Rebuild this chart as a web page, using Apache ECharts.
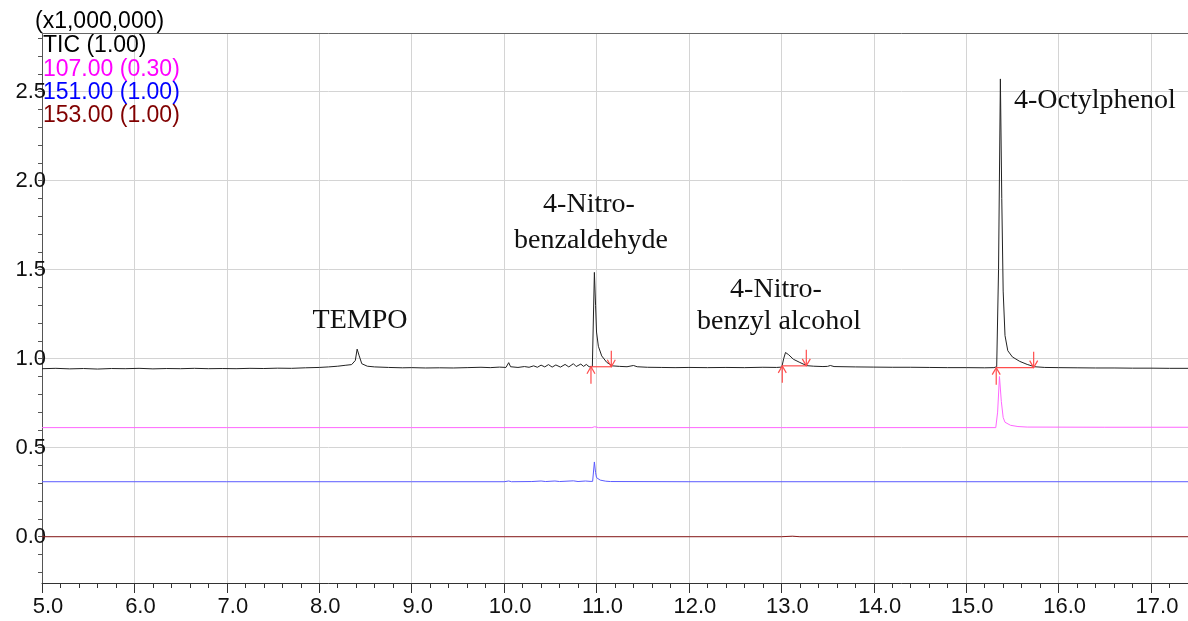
<!DOCTYPE html>
<html lang="en">
<head>
<meta charset="UTF-8">
<title>TIC chromatogram</title>
<style>html,body{margin:0;padding:0;background:#fff;}</style>
</head>
<body>
<div id="main" style="width:1188px;height:621px;"></div>
<script src="https://cdn.jsdelivr.net/npm/echarts@6/dist/echarts.min.js"></script>
<script>
// retention time (min) / intensity (x1,000,000)
var ticPoints = [
  [5.00,0.944],[5.15,0.946],[5.30,0.943],[5.45,0.945],[5.60,0.942],[5.75,0.945],[5.90,0.944],
  [6.05,0.946],[6.20,0.943],[6.35,0.945],[6.50,0.944],[6.65,0.946],[6.80,0.944],[6.95,0.945],
  [7.10,0.944],[7.25,0.946],[7.40,0.945],[7.55,0.947],[7.70,0.946],[7.85,0.949],[8.00,0.951],
  [8.10,0.954],[8.20,0.958],[8.28,0.963],[8.35,0.967],[8.39,0.990],[8.41,1.054],[8.43,1.020],
  [8.46,0.972],[8.52,0.958],[8.60,0.954],[8.75,0.951],[8.90,0.949],[9.00,0.950],[9.15,0.948],
  [9.30,0.949],[9.45,0.948],[9.60,0.950],[9.75,0.952],[9.85,0.950],[9.95,0.953],[10.02,0.951],
  [10.05,0.978],[10.07,0.955],[10.15,0.951],[10.22,0.956],[10.27,0.952],[10.32,0.960],[10.36,0.952],
  [10.40,0.964],[10.44,0.954],[10.48,0.967],[10.52,0.953],[10.56,0.965],[10.61,0.953],[10.66,0.968],
  [10.70,0.954],[10.75,0.972],[10.78,0.956],[10.83,0.970],[10.86,0.957],[10.89,0.968],[10.92,0.955],
  [10.955,0.955],[10.977,1.485],[10.99,1.30],[11.00,1.15],[11.02,1.07],[11.056,1.016],[11.11,0.980],
  [11.17,0.960],[11.25,0.957],[11.33,0.955],[11.40,0.962],[11.44,0.955],[11.55,0.952],[11.70,0.951],
  [11.85,0.950],[12.00,0.951],[12.20,0.950],[12.40,0.951],[12.60,0.950],[12.80,0.952],[12.95,0.951],
  [13.005,0.953],[13.025,1.000],[13.045,1.035],[13.08,1.022],[13.13,0.997],[13.20,0.979],[13.275,0.961],
  [13.35,0.958],[13.45,0.956],[13.50,0.957],[13.53,0.962],[13.57,0.956],[13.80,0.954],[14.00,0.953],
  [14.20,0.952],[14.40,0.952],[14.60,0.951],[14.80,0.950],[15.00,0.950],[15.20,0.949],[15.30,0.950],
  [15.33,0.955],[15.35,1.50],[15.37,2.572],[15.385,1.90],[15.40,1.38],[15.42,1.13],[15.45,1.045],
  [15.50,1.010],[15.58,0.985],[15.66,0.968],[15.74,0.955],[15.85,0.951],[16.00,0.950],[16.20,0.949],
  [16.40,0.948],[16.60,0.948],[16.80,0.947],[17.00,0.947],[17.20,0.946],[17.40,0.946]
];
var ion107Points = [
  [5.00,0.613],[7.00,0.613],[9.00,0.613],[10.95,0.613],[10.98,0.618],[11.02,0.613],[13.00,0.613],
  [13.02,0.617],[13.06,0.613],[15.32,0.613],[15.34,0.700],[15.36,0.900],[15.38,0.760],[15.40,0.670],
  [15.42,0.643],[15.48,0.626],[15.56,0.619],[15.66,0.616],[16.50,0.615],[17.40,0.615]
];
var ion151Points = [
  [5.00,0.309],[7.00,0.309],[9.00,0.309],[10.00,0.309],[10.05,0.313],[10.08,0.309],[10.30,0.310],
  [10.40,0.313],[10.45,0.310],[10.55,0.313],[10.60,0.310],[10.75,0.314],[10.80,0.310],[10.88,0.313],
  [10.93,0.311],[10.958,0.311],[10.977,0.420],[10.99,0.360],[11.00,0.332],[11.04,0.318],[11.10,0.312],
  [11.15,0.310],[12.00,0.309],[15.00,0.309],[17.40,0.309]
];
var ion153Points = [
  [5.00,0.000],[13.00,0.000],[13.02,0.004],[13.12,0.003],[13.20,0.000],[17.40,0.000]
];
// integration marks: start, end, baseline level
var peakMarks = [
  [10.94, 11.16, 0.955],
  [13.01, 13.27, 0.960],
  [15.325, 15.73, 0.950]
];
var xTicks = [5, 6, 7, 8, 9, 10, 11, 12, 13, 14, 15, 16, 17];
var yLabels = [0, 0.5, 1, 1.5, 2, 2.5];
var yMinorTicks = [-0.2, -0.1, 0, 0.1, 0.2, 0.3, 0.4, 0.5, 0.6, 0.7, 0.8, 0.9, 1, 1.1, 1.2, 1.3, 1.4,
  1.5, 1.6, 1.7, 1.8, 1.9, 2, 2.1, 2.2, 2.3, 2.4, 2.5, 2.6, 2.7, 2.8];
var traceNames = ['TIC (1.00)', '107.00 (0.30)', '151.00 (1.00)', '153.00 (1.00)'];
var traceColors = ['#222222', '#ff66ff', '#5a5aff', '#8b1c1c'];
var labelColors = ['#000000', '#ff00ff', '#0000ff', '#800000'];

var markColor = '#ff4d4d';
var chart = echarts.init(document.getElementById('main'));

var sans = '"Liberation Sans", Arial, sans-serif';
var serif = '"Liberation Serif", "Times New Roman", serif';

var graphics = [
  {type: 'text', x: 35, y: 22, style: {text: '(x1,000,000)', font: '23px ' + sans, fill: '#000', verticalAlign: 'middle'}}
];
traceNames.forEach(function (n, i) {
  graphics.push({type: 'text', x: 43, y: 46 + i * 23.3, z: 10,
    style: {text: n, font: '23px ' + sans, fill: labelColors[i], verticalAlign: 'middle'}});
});
var notes = [
  ['TEMPO', 360, 321, 'center'],
  ['4-Nitro-', 589, 205, 'center'],
  ['benzaldehyde', 591, 241, 'center'],
  ['4-Nitro-', 776, 290, 'center'],
  ['benzyl alcohol', 779, 322, 'center'],
  ['4-Octylphenol', 1014, 101, 'left']
];
notes.forEach(function (n) {
  graphics.push({type: 'text', x: n[1], y: n[2], z: 10,
    style: {text: n[0], font: '28px ' + serif, fill: '#111', align: n[3], verticalAlign: 'middle'}});
});

function lineSeries(name, pts, color) {
  return {
    name: name, type: 'line', data: pts, showSymbol: false, symbol: 'none',
    lineStyle: {color: color, width: 1}, itemStyle: {color: color},
    animation: false, z: 3
  };
}

var option = {
  animation: false,
  grid: {left: 42, right: 0, top: 33, bottom: 38, outerBoundsMode: 'none'},
  xAxis: [{
    type: 'value', position: 'bottom', min: 5, max: 17.4, interval: 1,
    axisLine: {onZero: false, lineStyle: {color: '#333', width: 1}},
    axisTick: {length: 10, lineStyle: {color: '#333'}},
    minorTick: {show: true, splitNumber: 5, length: 5, lineStyle: {color: '#333'}},
    axisLabel: {
      fontSize: 22, fontFamily: sans, color: '#111', margin: 13, padding: [0, 0, 0, 12],
      formatter: function (v) { return xTicks.indexOf(v) >= 0 ? v.toFixed(1) : ''; }
    },
    splitLine: {show: true, lineStyle: {color: '#d4d4d4', width: 1}}
  }, {
    type: 'value', position: 'top', min: 5, max: 17.4,
    axisLine: {show: true, onZero: false, lineStyle: {color: '#666'}},
    axisTick: {show: false}, axisLabel: {show: false}, splitLine: {show: false}
  }],
  yAxis: [{
    type: 'value', position: 'left', min: -0.26, max: 2.83,
    axisLine: {show: true, onZero: false, lineStyle: {color: '#555'}},
    axisTick: {show: true, customValues: yMinorTicks, length: 4, lineStyle: {color: '#555'}},
    axisLabel: {
      customValues: yLabels, fontSize: 22, fontFamily: sans, color: '#111', margin: -4,
      formatter: function (v) { return v.toFixed(1); }
    },
    splitLine: {show: false}
  }, {
    type: 'value', position: 'right', min: -0.26, max: 2.83,
    axisLine: {show: false, onZero: false},
    axisTick: {show: false, customValues: yLabels},
    axisLabel: {show: false},
    splitLine: {show: true, lineStyle: {color: '#d4d4d4', width: 1}}
  }],
  series: [
    lineSeries(traceNames[3], ion153Points, traceColors[3]),
    lineSeries(traceNames[2], ion151Points, traceColors[2]),
    lineSeries(traceNames[1], ion107Points, traceColors[1]),
    lineSeries(traceNames[0], ticPoints, traceColors[0]),
    {
      type: 'custom', data: peakMarks, z: 5, animation: false,
      encode: {x: [0, 1], y: 2},
      renderItem: function (params, api) {
        var a = api.coord([api.value(0), api.value(2)]);
        var b = api.coord([api.value(1), api.value(2)]);
        var st = {stroke: markColor, lineWidth: 1.2, fill: null};
        return {
          type: 'group',
          children: [
            {type: 'line', shape: {x1: a[0], y1: a[1], x2: b[0], y2: b[1]}, style: st},
            {type: 'line', shape: {x1: a[0], y1: a[1] + 17, x2: a[0], y2: a[1]}, style: st},
            {type: 'polyline', shape: {points: [[a[0] - 4, a[1] + 7], [a[0], a[1]], [a[0] + 4, a[1] + 7]]}, style: st},
            {type: 'line', shape: {x1: b[0], y1: b[1] - 16, x2: b[0], y2: b[1]}, style: st},
            {type: 'polyline', shape: {points: [[b[0] - 4, b[1] - 7], [b[0], b[1]], [b[0] + 4, b[1] - 7]]}, style: st}
          ]
        };
      }
    }
  ],
  graphic: graphics
};
chart.setOption(option);
</script>
</body>
</html>
